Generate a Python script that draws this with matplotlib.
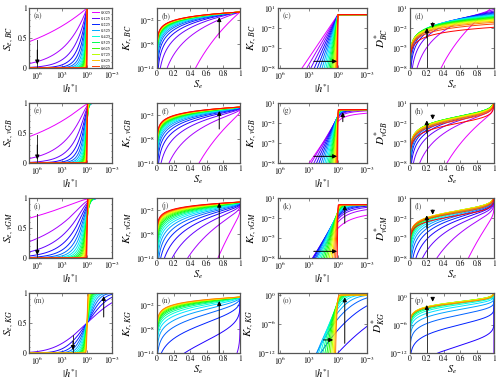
import math
import numpy as np
import matplotlib
matplotlib.use('Agg')
import matplotlib.pyplot as plt

plt.rcParams['mathtext.fontset'] = 'stix'
plt.rcParams['font.family'] = 'STIXGeneral'

# shape parameter m of the 20 curves, legend lists every other one
m_vals = [0.025, 0.075, 0.125, 0.175, 0.225, 0.275, 0.325, 0.375, 0.425, 0.475,
          0.525, 0.575, 0.625, 0.675, 0.725, 0.775, 0.825, 0.875, 0.925, 0.975]
legend_vals = m_vals[::2]
kg_range = (0.1, 0.9)     # KG curves shown only for these m
models = ['BC', 'vGB', 'vGM', 'KG']
tags = 'abcdefghijklmnop'

erfc = np.vectorize(math.erfc)
SQ2 = math.sqrt(2.0)


def par(model, m):
    if model == 'BC':
        return 2 * m / (1 - m)      # lambda
    if model == 'vGB':
        return 2 / (1 - m)          # n
    if model == 'vGM':
        return 1 / (1 - m)          # n
    return (1 - m) / m              # sigma


def burdine_mualem(model, m, se):
    t = -np.expm1(m * np.log1p(-se ** (1 / m)))
    if model == 'vGB':
        return se ** 2 * t
    return np.sqrt(se) * t ** 2


def curves_h(model, m, h):
    p = par(model, m)
    if model == 'BC':
        se = np.where(h > 1, h ** (-p), 1.0)
        kr = np.where(h > 1, se ** (3 + 2 / p), 1.0)
    elif model == 'KG':
        z = np.log(h) / (p * SQ2)
        se = 0.5 * erfc(z)
        kr = np.sqrt(se) * (0.5 * erfc(z + p / SQ2)) ** 2
    else:
        se = np.exp(-m * np.log1p(h ** p))
        kr = burdine_mualem(model, m, se)
    return se, kr


def curves_se(model, m):
    p = par(model, m)
    if model == 'KG':
        z = np.linspace(-9, 9, 4000)
        h = np.exp(z * p * SQ2)
        se = 0.5 * erfc(z)
        kr = np.sqrt(se) * (0.5 * erfc(z + p / SQ2)) ** 2
        dstar = kr * p * h * math.sqrt(2 * math.pi) * np.exp(z ** 2)
        return se, kr, dstar
    se = np.concatenate([np.logspace(-12, -2, 400), np.linspace(0.01, 1 - 1e-12, 2500)])
    if model == 'BC':
        kr = se ** (3 + 2 / p)
        dstar = (1 / p) * se ** (2 + 1 / p)
        return se, kr, dstar
    kr = burdine_mualem(model, m, se)
    t = -np.log(se) / m
    loga = np.where(t > 50, t, np.log(np.expm1(np.minimum(t, 50))))
    logdh = -np.log(p * m) + (1 / p - 1) * loga - (1 / m + 1) * np.log(se)
    dstar = kr * np.exp(np.minimum(logdh, 700))
    return se, kr, dstar


colors = plt.cm.hsv(np.linspace(0.83, 0.0, len(m_vals)))

# arrows: ('seg', x0, y0, x1, y1) plain line, ('arr', x0, y0, x1, y1) line with head at x1,y1
arrows = {
    'a': [('seg', 1e6, 0.47, 1e6, 0.0), ('arr', 1e6, 0.3, 1e6, 0.06)],
    'b': [('arr', 0.75, 10**-6.5, 0.75, 10**-1.3)],
    'c': [('arr', 10**2.5, 1e-7, 10**0.1, 1e-7)],
    'd': [('seg', 0.2, 1e-8, 0.2, 10**-2.2), ('arr', 0.2, 10**-3.5, 0.2, 10**-2.0),
          ('arr', 0.27, 10**-1.2, 0.27, 10**-2.0)],
    'e': [('seg', 1e6, 0.47, 1e6, 0.0), ('arr', 1e6, 0.3, 1e6, 0.06)],
    'f': [('arr', 0.75, 10**-5.5, 0.75, 10**-1.0)],
    'g': [('arr', 10**2.5, 1e-7, 10**0.1, 1e-7), ('arr', 10**-0.5, 10**-1.8, 10**-0.5, 10**-0.4)],
    'h': [('seg', 0.2, 1e-8, 0.2, 10**-1.8), ('arr', 0.2, 10**-3.5, 0.2, 10**-1.6),
          ('arr', 0.27, 10**-0.8, 0.27, 10**-1.5)],
    'i': [('seg', 1e6, 0.73, 1e6, 0.0), ('arr', 1e6, 0.3, 1e6, 0.05)],
    'j': [('arr', 0.75, 1e-14, 0.75, 10**-0.2)],
    'k': [('arr', 10**2.5, 1e-7, 10**0.1, 1e-7), ('arr', 10**-0.7, 10**-2.8, 10**-0.7, 10**-0.1)],
    'l': [('seg', 0.2, 1e-8, 0.2, 10**-1.8), ('arr', 0.2, 10**-3.5, 0.2, 10**-1.6),
          ('arr', 0.27, 10**-0.8, 0.27, 10**-1.5)],
    'm': [('seg', 10**1.7, 0.3, 10**1.7, 0.0), ('arr', 10**1.7, 0.2, 10**1.7, 0.05),
          ('arr', 10**-2, 0.6, 10**-2, 0.95)],
    'n': [('arr', 0.75, 1e-14, 0.75, 10**-1)],
    'o': [('arr', 10**1.5, 10**-9.3, 10**0.5, 10**-9.3), ('arr', 10**-0.7, 10**-10, 10**-0.7, 10**-0.5)],
    'p': [('seg', 0.2, 1e-12, 0.2, 10**-2), ('arr', 0.2, 10**-4, 0.2, 10**-1.6),
          ('arr', 0.27, 10**-0.3, 0.27, 10**-0.9)],
}

fig = plt.figure(figsize=(5.0, 3.81), dpi=100)
W, H = 500.0, 381.0
col_x = [(29, 112), (157, 240), (278, 367), (410, 494)]
row_top = [8, 103, 198, 293]
ah = 60

h = np.logspace(-3.2, 7.2, 3000)
h = np.sort(np.append(h, 1.0))

for r, model in enumerate(models):
    sub = r'{e,\,%s}' % model
    for c in range(4):
        tag = tags[4 * r + c]
        x0p, x1p = col_x[c]
        ax = fig.add_axes([x0p / W, 1 - (row_top[r] + ah) / H, (x1p - x0p) / W, ah / H])
        for k, m in enumerate(m_vals):
            if model == 'KG' and not (kg_range[0] < m < kg_range[1]):
                continue
            with np.errstate(all='ignore'):
                if c in (0, 2):
                    se, kr = curves_h(model, m, h)
                    x, y = h, (se if c == 0 else kr)
                else:
                    se, kr, ds = curves_se(model, m)
                    x, y = se, (kr if c == 1 else ds)
            lab = '%.3f' % m if (tag == 'a' and m in legend_vals) else None
            ax.plot(x, y, color=colors[k], lw=0.7, label=lab)

        if c in (0, 2):
            ax.set_xscale('log')
            ax.set_xlim(1e7 if c == 0 else 10**6.2, 1e-3)
            ax.set_xticks([1e6, 1e3, 1e0, 1e-3])
            ax.set_xticklabels([r'$10^{6}$', r'$10^{3}$', r'$10^{0}$', r'$10^{-3}$'])
            ax.xaxis.set_minor_locator(matplotlib.ticker.NullLocator())
            ax.set_xlabel(r'$|h^{*}|$', fontsize=7.5, labelpad=0)
        else:
            ax.set_xlim(0, 1)
            ax.set_xticks([0, 0.2, 0.4, 0.6, 0.8, 1])
            ax.set_xticklabels(['0', '0.2', '0.4', '0.6', '0.8', '1'])
            ax.set_xlabel(r'$S_e$', fontsize=7.5, labelpad=0)

        if c == 0:
            ax.set_ylim(0, 1)
            ax.set_yticks([0, 0.5, 1])
            ax.set_yticklabels(['0', '0.5', '1'])
            ax.set_yticks(np.arange(0, 1.01, 0.1), minor=True)
            ax.set_ylabel(r'$S_%s$' % sub, fontsize=8, labelpad=1)
        else:
            ax.set_yscale('log')
            if c == 1:
                ax.set_ylim(1e-14, 1e1)
                ax.set_yticks([1e-2, 1e-8, 1e-14])
                ax.set_yticklabels([r'$10^{-2}$', r'$10^{-8}$', r'$10^{-14}$'])
                ax.set_ylabel(r'$K_{r,\,%s}$' % model, fontsize=8, labelpad=1)
            elif c == 2 and model != 'KG':
                ax.set_ylim(1e-8, 1e1)
                ax.set_yticks([1e1, 1e-2, 1e-5, 1e-8])
                ax.set_yticklabels([r'$10^{1}$', r'$10^{-2}$', r'$10^{-5}$', r'$10^{-8}$'])
                ax.set_ylabel(r'$K_{r,\,%s}$' % model, fontsize=8, labelpad=1)
            elif c == 2:
                ax.set_ylim(1e-12, 10**0.4)
                ax.set_yticks([1e0, 1e-6, 1e-12])
                ax.set_yticklabels([r'$10^{0}$', r'$10^{-6}$', r'$10^{-12}$'])
                ax.set_ylabel(r'$K_{r,\,%s}$' % model, fontsize=8, labelpad=1)
            elif model != 'KG':
                ax.set_ylim(1e-8, 1e1)
                ax.set_yticks([1e1, 1e-2, 1e-5, 1e-8])
                ax.set_yticklabels([r'$10^{1}$', r'$10^{-2}$', r'$10^{-5}$', r'$10^{-8}$'])
                ax.set_ylabel(r'$D^{*}_{%s}$' % model, fontsize=8, labelpad=1)
            else:
                ax.set_ylim(1e-12, 1e1)
                ax.set_yticks([1e0, 1e-6, 1e-12])
                ax.set_yticklabels([r'$10^{0}$', r'$10^{-6}$', r'$10^{-12}$'])
                ax.set_ylabel(r'$D^{*}_{%s}$' % model, fontsize=8, labelpad=1)
            ax.yaxis.set_minor_locator(matplotlib.ticker.NullLocator())

        ax.tick_params(which='both', direction='in', top=True, right=True, labelsize=5.5,
                       length=2, width=0.5, pad=1.5, color='#555555')
        ax.tick_params(which='minor', length=1)
        for s in ax.spines.values():
            s.set_color('#555555')
            s.set_linewidth(0.9)
        ax.text(0.05, 0.93, '(%s)' % tag, transform=ax.transAxes, fontsize=5.5,
                color='#444444', va='top', ha='left')

        for kind, xa, ya, xb, yb in arrows[tag]:
            if kind == 'seg':
                ax.plot([xa, xb], [ya, yb], color='#333333', lw=0.7)
            else:
                ax.annotate('', xy=(xb, yb), xytext=(xa, ya),
                            arrowprops=dict(arrowstyle='-|>', color='black', lw=0.7,
                                            mutation_scale=6, shrinkA=0, shrinkB=0))

        if tag == 'a':
            ax.legend(loc='upper right', fontsize=3.2, frameon=False, handlelength=1.6,
                      labelspacing=0.42, borderaxespad=0.2, handletextpad=0.4,
                      bbox_to_anchor=(1.02, 1.0))

fig.savefig('out.png', dpi=100)
